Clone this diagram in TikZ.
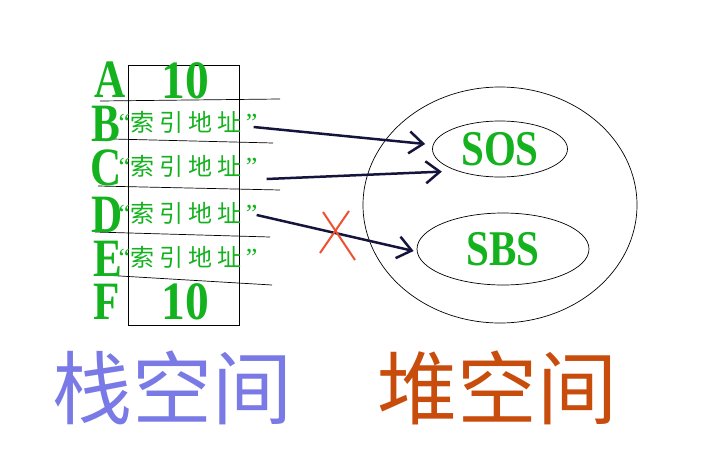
\documentclass[tikz,border=0pt]{standalone}
\usepackage{fontspec}
\usepackage{graphicx}
\setmainfont{Liberation Serif}
\newfontfamily\cjk{Noto Sans CJK SC}
\newfontfamily\cjkwide[LetterSpace=22]{Noto Sans CJK SC}
\usetikzlibrary{shapes,arrows.meta}
\definecolor{stackgreen}{RGB}{20,178,30}
\definecolor{stackblue}{RGB}{122,122,230}
\definecolor{heaporange}{RGB}{200,76,12}
\definecolor{crossred}{RGB}{238,80,48}
\definecolor{pointerblue}{RGB}{20,20,60}
\newcommand*{\slim}[1]{\scalebox{0.8}[1]{#1}}
\newcommand*{\addr}{{\fontsize{26}{26}\selectfont“}{\cjkwide 索引地址}\,{\fontsize{26}{26}\selectfont”}}
\tikzstyle{letter} = [text=stackgreen, inner sep=0pt, font=\fontsize{54}{54}\selectfont\bfseries]
\tikzstyle{cell} = [text=stackgreen, inner sep=0pt, font=\fontsize{24}{24}\selectfont]
\tikzstyle{number} = [text=stackgreen, inner sep=0pt, font=\fontsize{54}{54}\selectfont\bfseries]
\tikzstyle{object} = [draw, ellipse, line width=0.7pt, inner sep=0pt, text=stackgreen, font=\fontsize{50}{50}\selectfont\bfseries]
\tikzstyle{pointer} = [draw=pointerblue, line width=2.5pt, -{Straight Barb[length=14pt,width=22pt,line width=2.5pt]}]
\tikzstyle{title} = [inner sep=0pt, font=\cjk\fontsize{80}{80}\selectfont]

\begin{document}
\begin{tikzpicture}[x=1pt, y=-1pt]
    \useasboundingbox (0,0) rectangle (720,450);
    % stack
    \node [draw, line width=0.7pt, minimum width=111pt, minimum height=260pt, inner sep=0pt] (stack) at (183.5,195) {};
    \draw [line width=0.7pt] (100,101) -- (280,99);
    \draw [line width=0.7pt] (113,139) -- (273,143);
    \draw [line width=0.7pt] (98,186) -- (280,190);
    \draw [line width=0.7pt] (95,232) -- (270,237);
    \draw [line width=0.7pt] (103,275) -- (272,285);
    \node [letter] (A) at (110,80) {\slim{A}};
    \node [letter] (B) at (106,124) {\slim{B}};
    \node [letter] (C) at (106,168) {\slim{C}};
    \node [letter] (D) at (107,215) {\slim{D}};
    \node [letter] (E) at (108,259) {\slim{E}};
    \node [letter] (F) at (107,302) {\slim{F}};
    \node [number] (a) at (185,81) {\scalebox{0.88}[1]{10}};
    \node [cell] (b) at (188,122) {\addr};
    \node [cell] (c) at (188,166) {\addr};
    \node [cell] (d) at (188,213) {\addr};
    \node [cell] (e) at (188,257) {\addr};
    \node [number] (f) at (185,302) {\scalebox{0.88}[1]{10}};
    % heap
    \node [draw, ellipse, line width=0.7pt, minimum width=274pt, minimum height=236pt] (heap) at (500,205) {};
    \node [object, minimum width=135pt, minimum height=56pt] (sos) at (500,149) {\scalebox{0.82}[1]{SOS}};
    \node [object, minimum width=172pt, minimum height=72pt] (sbs) at (503,249) {\scalebox{0.82}[1]{SBS}};
    \draw [pointer] ([shift={(-4,5)}]b.east) -- ([shift={(-7,-5)}]sos.west);
    \draw [pointer] ([shift={(9,13)}]c.east) -- ([shift={(-7,4)}]sos.200);
    \draw [pointer] ([shift={(-1,2)}]d.east) -- ([shift={(-3,2)}]sbs.west);
    \coordinate (cut) at (337,236);
    \draw [crossred, line width=2pt] ([shift={(-14,-24)}]cut) -- ([shift={(18,24)}]cut);
    \draw [crossred, line width=2pt] ([shift={(12,-25)}]cut) -- ([shift={(-17,17)}]cut);
    \node [title, text=stackblue] (stackname) at (172,388) {栈空间};
    \node [title, text=heaporange] (heapname) at (497,388) {堆空间};
\end{tikzpicture}
\end{document}
